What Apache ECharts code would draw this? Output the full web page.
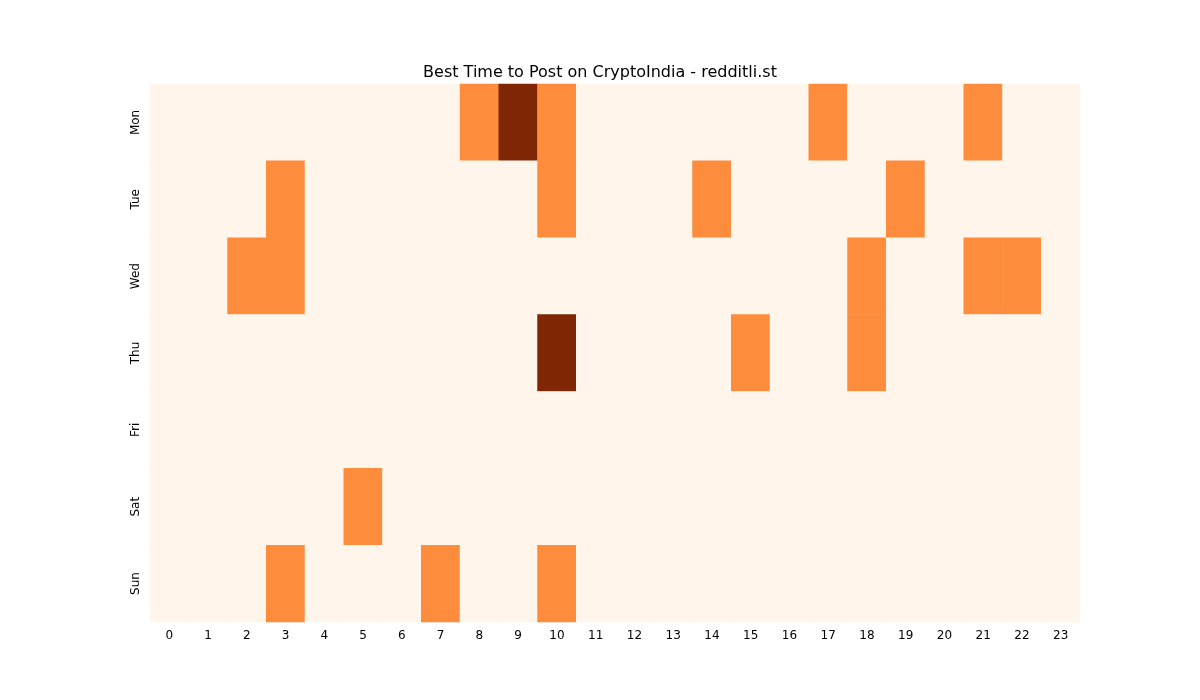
<!DOCTYPE html>
<html>
<head>
<meta charset="utf-8">
<script src="https://cdn.jsdelivr.net/npm/echarts@6/dist/echarts.min.js"></script>
<style>body{margin:0;background:#fff}#chart{width:1200px;height:700px}</style>
</head>
<body>
<div id="chart"></div>
<script>
var hours = ['0','1','2','3','4','5','6','7','8','9','10','11','12','13','14','15','16','17','18','19','20','21','22','23'];
var days = ['Mon','Tue','Wed','Thu','Fri','Sat','Sun'];
// non-zero cells: [hour, dayIndex, level]
var cells = [
  [8,0,1],[9,0,2],[10,0,1],[17,0,1],[21,0,1],
  [3,1,1],[10,1,1],[14,1,1],[19,1,1],
  [2,2,1],[3,2,1],[18,2,1],[21,2,1],[22,2,1],
  [10,3,2],[15,3,1],[18,3,1],
  [5,5,1],
  [3,6,1],[7,6,1],[10,6,1]
];

var data = [];
for (var d = 0; d < days.length; d++) {
  for (var h = 0; h < hours.length; h++) data.push([h, d, 0]);
}
cells.forEach(function (c) { data[c[1] * 24 + c[0]][2] = c[2]; });

var chart = echarts.init(document.getElementById('chart'));
chart.setOption({
  animation: false,
  title: {
    text: 'Best Time to Post on CryptoIndia - redditli.st',
    left: 'center', top: 60,
    textStyle: {fontFamily: 'DejaVu Sans', fontSize: 16, fontWeight: 'normal', color: '#000'}
  },
  grid: {left: 150, right: 120, top: 84, bottom: 78},
  xAxis: {
    type: 'category', data: hours,
    axisLine: {show: false},
    axisTick: {alignWithLabel: true, length: 4, lineStyle: {color: '#000'}},
    axisLabel: {fontFamily: 'DejaVu Sans', fontSize: 12, color: '#000'}
  },
  yAxis: {
    type: 'category', data: days, inverse: true,
    axisLine: {show: false},
    axisTick: {alignWithLabel: true, length: 4, lineStyle: {color: '#000'}},
    axisLabel: {fontFamily: 'DejaVu Sans', fontSize: 12, color: '#000', rotate: 90}
  },
  visualMap: {
    show: false, type: 'piecewise', dimension: 2,
    pieces: [
      {value: 0, color: '#fff5eb'},
      {value: 1, color: '#fd8d3c'},
      {value: 2, color: '#7f2704'}
    ]
  },
  graphic: [{
    type: 'text', left: 550, top: 337,
    style: {text: 'redditli.st', fontFamily: 'DejaVu Sans', fontSize: 26, fill: 'rgba(128,128,128,0.45)'}
  }],
  series: [{type: 'heatmap', data: data, itemStyle: {borderWidth: 0}}]
});
</script>
</body>
</html>
